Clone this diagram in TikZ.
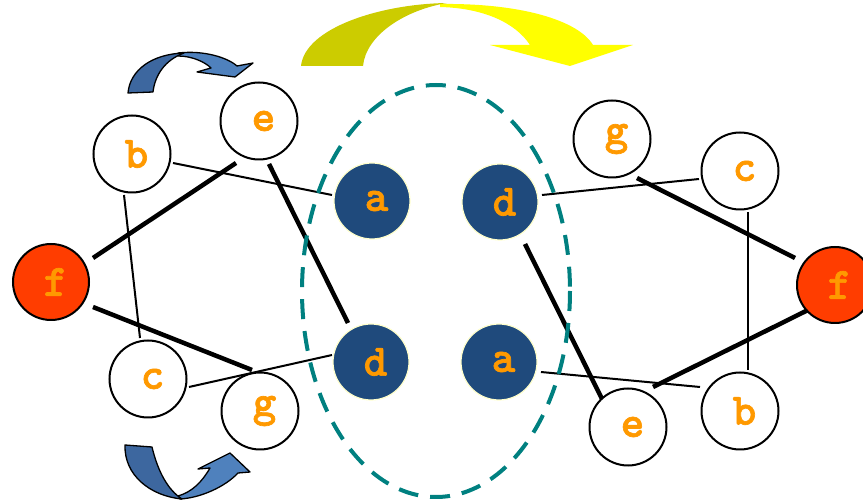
\documentclass[tikz,border=0pt]{standalone}
\usepackage{fontspec}
\usetikzlibrary{calc}
\newfontfamily\labfont{lmmonolt10-bold.otf}[FakeBold=1.5]
\newcommand\nodelab[1]{\hspace*{9pt}#1}
\definecolor{lblorange}{HTML}{FF9900}
\definecolor{navynode}{HTML}{1F4A7C}
\definecolor{rednode}{HTML}{FF3D00}
\definecolor{ringteal}{HTML}{008080}
\definecolor{paleyel}{HTML}{FFFFCC}
\definecolor{olivey}{HTML}{CCCC00}
\definecolor{brighty}{HTML}{FFFF00}
\definecolor{bluedark}{HTML}{3D679F}
\definecolor{bluelight}{HTML}{4F81BD}
\begin{document}
\begin{tikzpicture}[x=1pt,y=-1pt,
  lbl/.style={font=\labfont\fontsize{45}{45}\selectfont, text=lblorange, inner sep=0pt},
  wnode/.style={lbl, circle, draw=black, line width=2pt, fill=white, minimum size=77pt},
  dnode/.style={lbl, circle, draw=paleyel, line width=1.2pt, fill=navynode, minimum size=76pt},
  fnode/.style={lbl, circle, draw=black, line width=2pt, fill=rednode, minimum size=76pt},
  thinedge/.style={line width=2pt, black},
  thickedge/.style={line width=4.5pt, black},
  bluearrow/.style={draw=black, line width=1.3pt, line join=round}]
\clip (0,0) rectangle (863,502);
\useasboundingbox (0,0) rectangle (863,502);

\path
  (132,154) coordinate (pb)
  (259,121) coordinate (pe)
  (51,282) coordinate (pf)
  (148,379) coordinate (pc)
  (260,411) coordinate (pg)
  (372,201) coordinate (pa)
  (371,362) coordinate (pd)
  (500,202) coordinate (qd)
  (499,362) coordinate (qa)
  (612,139) coordinate (qg)
  (740,171) coordinate (qc)
  (835,285) coordinate (qf)
  (740,411) coordinate (qb)
  (628,427) coordinate (qe);

% edges left
\draw[thinedge]  ($(pb)+(41,9)$)  -- ($(pa)+(-40,-6)$);
\draw[thickedge] ($(pe)+(-23,42)$) -- ($(pf)+(42,-24)$);
\draw[thickedge] ($(pe)+(10,43)$) -- ($(pd)+(-23,-39)$);
\draw[thinedge]  ($(pb)+(-8,41)$) -- ($(pc)+(-8,-41)$);
\draw[thickedge] ($(pf)+(42,25)$) -- ($(pg)+(-8,-41)$);
\draw[thinedge]  ($(pc)+(41,8)$) -- ($(pd)+(-39,-7)$);
% edges right
\draw[thinedge]  ($(qd)+(42,-7)$) -- ($(qc)+(-41,8)$);
\draw[thickedge] ($(qg)+(25,39)$) -- ($(qf)+(-40,-27)$);
\draw[thickedge] ($(qd)+(25,42)$) -- ($(qe)+(-24,-24)$);
\draw[thinedge]  ($(qc)+(8,41)$) -- ($(qb)+(8,-41)$);
\draw[thinedge]  ($(qa)+(42,10)$) -- ($(qb)+(-40,-24)$);
\draw[thickedge] ($(qf)+(-27,25)$) -- ($(qe)+(25,-40)$);

% dashed ellipse
\draw[ringteal, line width=4pt, dash pattern=on 20pt off 12pt] (436,291) ellipse [x radius=134, y radius=206];

% nodes
\node[wnode] (b1) at (pb) {\nodelab{b}};
\node[wnode] (e1) at (pe) {\nodelab{e}};
\node[fnode] (f1) at (pf) {\nodelab{f}};
\node[wnode] (c1) at (pc) {\nodelab{c}};
\node[wnode] (g1) at (pg) {\nodelab{g}};
\node[dnode] (a1) at (pa) {\nodelab{a}};
\node[dnode] (d1) at (pd) {\nodelab{d}};
\node[dnode] (d2) at (qd) {\nodelab{d}};
\node[dnode] (a2) at (qa) {\nodelab{a}};
\node[wnode] (g2) at (qg) {\nodelab{g}};
\node[wnode] (c2) at (qc) {\nodelab{c}};
\node[fnode] (f2) at (qf) {\nodelab{f}};
\node[wnode] (b2) at (qb) {\nodelab{b}};
\node[wnode] (e2) at (qe) {\nodelab{e}};

% top yellow arrow
\fill[brighty] (440,4) .. controls (520,3) and (578,20) .. (593,45) -- (633,45) -- (570,66) -- (490,45) -- (530,45) .. controls (515,22) and (482,8) .. (440,7) -- cycle;
\fill[olivey] (301,66) .. controls (305,28) and (380,4) .. (447,3) .. controls (405,10) and (366,35) .. (363,66) -- cycle;

% top-left blue arrow
\filldraw[bluearrow, fill=bluelight] (178,53) .. controls (205,50) and (228,58) .. (237,66) -- (253,63) -- (235,77) -- (197,72) -- (211,68) .. controls (205,62) and (192,56) .. (178,56) -- cycle;
\filldraw[bluearrow, fill=bluedark] (128,93) .. controls (130,70) and (152,54) .. (184,53) .. controls (165,60) and (155,75) .. (153,92) -- cycle;

% bottom blue arrow
\filldraw[bluearrow, fill=bluelight] (180,499) .. controls (200,498) and (225,487) .. (238,473) -- (250,472) -- (230,453) -- (198,469) -- (210,468) .. controls (202,482) and (192,492) .. (178,496) -- cycle;
\filldraw[bluearrow, fill=bluedark] (125,445) .. controls (124,475) and (150,496) .. (182,499) .. controls (168,490) and (158,472) .. (152,447) -- cycle;
\end{tikzpicture}
\end{document}
